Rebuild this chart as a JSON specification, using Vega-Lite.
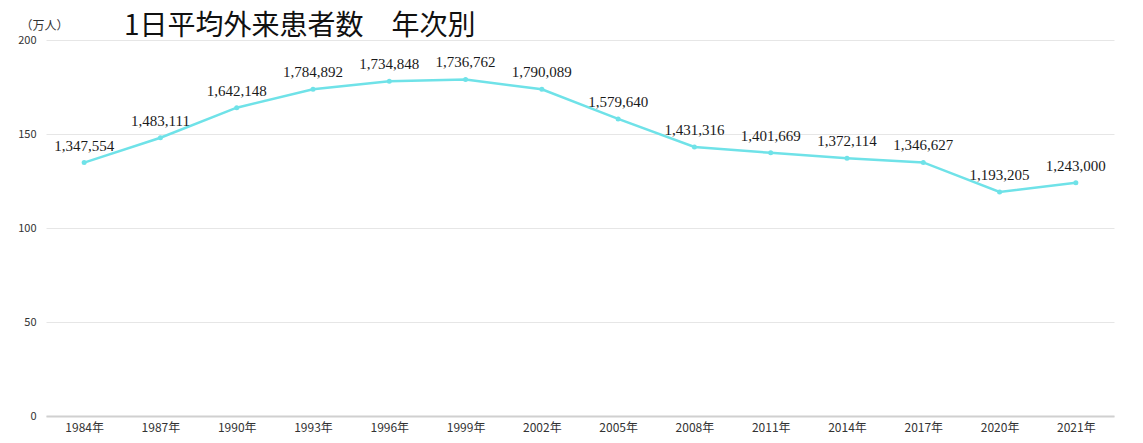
{
  "$schema": "https://vega.github.io/schema/vega-lite/v6.json",
  "autosize": {"type": "none"},
  "width": 1068,
  "height": 376,
  "padding": {"left": 46, "top": 40, "right": 29, "bottom": 27},
  "background": "white",
  "title": {
    "text": "1日平均外来患者数　年次別",
    "anchor": "start",
    "frame": "group",
    "dx": 78,
    "dy": 26,
    "offset": 4,
    "font": "Noto Sans CJK JP",
    "fontSize": 28,
    "fontWeight": "normal",
    "color": "#111111"
  },
  "data": {
    "values": [
      {"year": "1984年", "value": 134.8, "label": "1,347,554"},
      {"year": "1987年", "value": 148.0, "label": "1,483,111"},
      {"year": "1990年", "value": 164.0, "label": "1,642,148"},
      {"year": "1993年", "value": 173.8, "label": "1,784,892"},
      {"year": "1996年", "value": 178.0, "label": "1,734,848"},
      {"year": "1999年", "value": 179.0, "label": "1,736,762"},
      {"year": "2002年", "value": 173.8, "label": "1,790,089"},
      {"year": "2005年", "value": 158.0, "label": "1,579,640"},
      {"year": "2008年", "value": 143.1, "label": "1,431,316"},
      {"year": "2011年", "value": 140.0, "label": "1,401,669"},
      {"year": "2014年", "value": 137.1, "label": "1,372,114"},
      {"year": "2017年", "value": 134.9, "label": "1,346,627"},
      {"year": "2020年", "value": 119.2, "label": "1,193,205"},
      {"year": "2021年", "value": 124.1, "label": "1,243,000"}
    ]
  },
  "encoding": {
    "x": {
      "field": "year",
      "type": "ordinal",
      "sort": null,
      "scale": {"type": "point", "padding": 0.5},
      "axis": {
        "title": null,
        "labelAngle": 0,
        "ticks": false,
        "domain": true,
        "domainColor": "#d0d0d0",
        "domainWidth": 2,
        "grid": false,
        "labelFont": "Noto Sans CJK JP",
        "labelFontSize": 12,
        "labelColor": "#333333",
        "labelPadding": 6
      }
    },
    "y": {
      "field": "value",
      "type": "quantitative",
      "scale": {"domain": [0, 200]},
      "axis": {
        "values": [0, 50, 100, 150, 200],
        "title": "（万人）",
        "titleAngle": 0,
        "titleX": -26,
        "titleY": -15,
        "titleAlign": "left",
        "titleBaseline": "middle",
        "titleFont": "Noto Sans CJK JP",
        "titleFontSize": 12,
        "titleFontWeight": "normal",
        "titleColor": "#333333",
        "ticks": false,
        "domain": false,
        "gridColor": "#e6e6e6",
        "gridWidth": 1,
        "labelFont": "Noto Sans CJK JP",
        "labelFontSize": 11,
        "labelColor": "#333333",
        "labelPadding": 10
      }
    }
  },
  "layer": [
    {
      "mark": {"type": "line", "color": "#6fe2e8", "strokeWidth": 2.5},
      "encoding": {}
    },
    {
      "mark": {"type": "point", "filled": true, "color": "#6fe2e8", "size": 25, "opacity": 1},
      "encoding": {}
    },
    {
      "mark": {"type": "text", "font": "Liberation Serif", "fontSize": 15, "color": "#1a1a1a", "baseline": "bottom", "dy": -9},
      "encoding": {"text": {"field": "label"}}
    }
  ],
  "config": {"view": {"stroke": null}}
}
